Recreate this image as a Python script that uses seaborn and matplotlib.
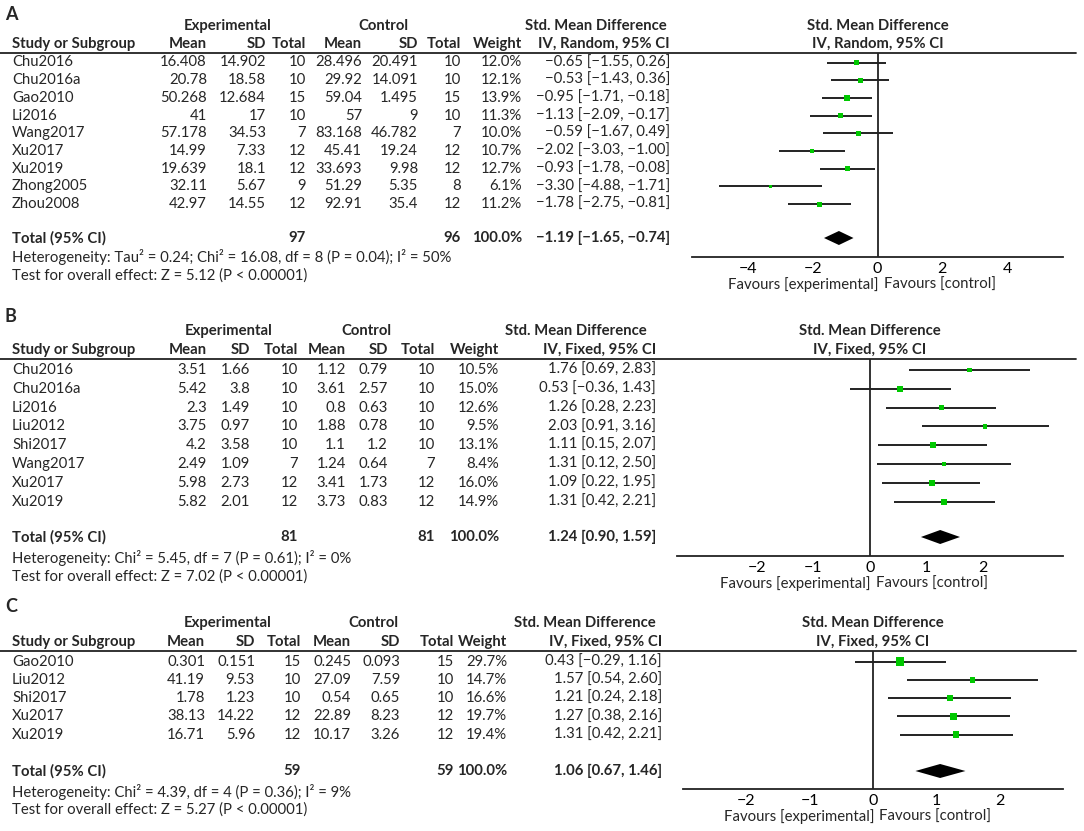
import matplotlib
matplotlib.use("Agg")
import matplotlib.pyplot as plt
from matplotlib.transforms import blended_transform_factory
import seaborn as sns
import pandas as pd

sns.set_style("white")
plt.rcParams["font.family"] = ["Lato", "DejaVu Sans"]
plt.rcParams["axes.unicode_minus"] = True

# ------------------------------------------------------------------
# Data
# ------------------------------------------------------------------
a_study = ["Chu2016", "Chu2016a", "Gao2010", "Li2016", "Wang2017", "Xu2017",
           "Xu2019", "Zhong2005", "Zhou2008"]
a_exp_mean = [16.408, 20.78, 50.268, 41, 57.178, 14.99, 19.639, 32.11, 42.97]
a_exp_sd = [14.902, 18.58, 12.684, 17, 34.53, 7.33, 18.1, 5.67, 14.55]
a_exp_n = [10, 10, 15, 10, 7, 12, 12, 9, 12]
a_ctl_mean = [28.496, 29.92, 59.04, 57, 83.168, 45.41, 33.693, 51.29, 92.91]
a_ctl_sd = [20.491, 14.091, 1.495, 9, 46.782, 19.24, 9.98, 5.35, 35.4]
a_ctl_n = [10, 10, 15, 10, 7, 12, 12, 8, 12]
a_weight = [12.0, 12.1, 13.9, 11.3, 10.0, 10.7, 12.7, 6.1, 11.2]
a_smd = [-0.65, -0.53, -0.95, -1.13, -0.59, -2.02, -0.93, -3.30, -1.78]
a_lo = [-1.55, -1.43, -1.71, -2.09, -1.67, -3.03, -1.78, -4.88, -2.75]
a_hi = [0.26, 0.36, -0.18, -0.17, 0.49, -1.00, -0.08, -1.71, -0.81]
a_total = [97, 96, -1.19, -1.65, -0.74]
a_het = "Heterogeneity: Tau² = 0.24; Chi² = 16.08, df = 8 (P = 0.04); I² = 50%"
a_test = "Test for overall effect: Z = 5.12 (P < 0.00001)"

b_study = ["Chu2016", "Chu2016a", "Li2016", "Liu2012", "Shi2017", "Wang2017",
           "Xu2017", "Xu2019"]
b_exp_mean = [3.51, 5.42, 2.3, 3.75, 4.2, 2.49, 5.98, 5.82]
b_exp_sd = [1.66, 3.8, 1.49, 0.97, 3.58, 1.09, 2.73, 2.01]
b_exp_n = [10, 10, 10, 10, 10, 7, 12, 12]
b_ctl_mean = [1.12, 3.61, 0.8, 1.88, 1.1, 1.24, 3.41, 3.73]
b_ctl_sd = [0.79, 2.57, 0.63, 0.78, 1.2, 0.64, 1.73, 0.83]
b_ctl_n = [10, 10, 10, 10, 10, 7, 12, 12]
b_weight = [10.5, 15.0, 12.6, 9.5, 13.1, 8.4, 16.0, 14.9]
b_smd = [1.76, 0.53, 1.26, 2.03, 1.11, 1.31, 1.09, 1.31]
b_lo = [0.69, -0.36, 0.28, 0.91, 0.15, 0.12, 0.22, 0.42]
b_hi = [2.83, 1.43, 2.23, 3.16, 2.07, 2.50, 1.95, 2.21]
b_total = [81, 81, 1.24, 0.90, 1.59]
b_het = "Heterogeneity: Chi² = 5.45, df = 7 (P = 0.61); I² = 0%"
b_test = "Test for overall effect: Z = 7.02 (P < 0.00001)"

c_study = ["Gao2010", "Liu2012", "Shi2017", "Xu2017", "Xu2019"]
c_exp_mean = [0.301, 41.19, 1.78, 38.13, 16.71]
c_exp_sd = [0.151, 9.53, 1.23, 14.22, 5.96]
c_exp_n = [15, 10, 10, 12, 12]
c_ctl_mean = [0.245, 27.09, 0.54, 22.89, 10.17]
c_ctl_sd = [0.093, 7.59, 0.65, 8.23, 3.26]
c_ctl_n = [15, 10, 10, 12, 12]
c_weight = [29.7, 14.7, 16.6, 19.7, 19.4]
c_smd = [0.43, 1.57, 1.21, 1.27, 1.31]
c_lo = [-0.29, 0.54, 0.24, 0.38, 0.42]
c_hi = [1.16, 2.60, 2.18, 2.16, 2.21]
c_total = [59, 59, 1.06, 0.67, 1.46]
c_het = "Heterogeneity: Chi² = 4.39, df = 4 (P = 0.36); I² = 9%"
c_test = "Test for overall effect: Z = 5.27 (P < 0.00001)"

col_heads = ["Mean", "SD", "Total", "Mean", "SD", "Total", "Weight"]

# ------------------------------------------------------------------
# Layout (pixel positions on a 1084 x 831 canvas)
# ------------------------------------------------------------------
W, H = 1084, 831
GREEN = "#00c800"
LINE = "#222222"
FS = 10.7

panels = [
    dict(letter="A", method="IV, Random, 95% CI",
         study=a_study, em=a_exp_mean, es=a_exp_sd, en=a_exp_n,
         cm=a_ctl_mean, cs=a_ctl_sd, cn=a_ctl_n, w=a_weight,
         smd=a_smd, lo=a_lo, hi=a_hi, tot=a_total, het=a_het, test=a_test,
         label_y=14, h1=26, h2=44, line_y=53, row0=62.5, row_h=17.7,
         total_y=238, het_y=257, test_y=276, axis_y=257,
         cols=[207, 266, 306, 362, 418, 461, 522, 670], h1x=[228, 383, 596],
         fx=(692, 1063), xlim=(-5.72, 5.72), ticks=[-4, -2, 0, 2, 4]),
    dict(letter="B", method="IV, Fixed, 95% CI",
         study=b_study, em=b_exp_mean, es=b_exp_sd, en=b_exp_n,
         cm=b_ctl_mean, cs=b_ctl_sd, cn=b_ctl_n, w=b_weight,
         smd=b_smd, lo=b_lo, hi=b_hi, tot=b_total, het=b_het, test=b_test,
         label_y=316, h1=331, h2=350, line_y=359, row0=370, row_h=18.8,
         total_y=537, het_y=558, test_y=577, axis_y=556,
         cols=[207, 250, 298, 346, 388, 435, 499, 656], h1x=[229, 366, 576],
         fx=(677, 1063), xlim=(-3.41, 3.41), ticks=[-2, -1, 0, 1, 2]),
    dict(letter="C", method="IV, Fixed, 95% CI",
         study=c_study, em=c_exp_mean, es=c_exp_sd, en=c_exp_n,
         cm=c_ctl_mean, cs=c_ctl_sd, cn=c_ctl_n, w=c_weight,
         smd=c_smd, lo=c_lo, hi=c_hi, tot=c_total, het=c_het, test=c_test,
         label_y=606, h1=623, h2=642, line_y=651, row0=661.5, row_h=18.3,
         total_y=771, het_y=792, test_y=810, axis_y=789,
         cols=[205, 255, 301, 351, 400, 454, 507, 662], h1x=[228, 373, 585],
         fx=(683, 1063), xlim=(-3.0, 3.0), ticks=[-2, -1, 0, 1, 2]),
]


def fmt(v):
    return f"{v:g}".replace("-", "\u2212")


def ci(est, lo, hi):
    return f"{est:.2f} [{lo:.2f}, {hi:.2f}]".replace("-", "\u2212")


fig = plt.figure(figsize=(W / 100, H / 100), dpi=100)
tx = fig.add_axes([0, 0, 1, 1])
tx.set_xlim(0, W)
tx.set_ylim(H, 0)
tx.axis("off")

for p in panels:
    cols = p["cols"]
    # panel letter and table header
    tx.text(5, p["label_y"], p["letter"], fontsize=13, fontweight="bold",
            va="center", ha="left")
    for x, s in zip(p["h1x"], ["Experimental", "Control", "Std. Mean Difference"]):
        tx.text(x, p["h1"], s, fontsize=FS, fontweight="bold", ha="center", va="center")
    tx.text(12, p["h2"], "Study or Subgroup", fontsize=FS, fontweight="bold", va="center")
    for x, s in zip(cols, col_heads + [p["method"]]):
        tx.text(x, p["h2"], s, fontsize=FS, fontweight="bold", ha="right", va="center")
    tx.plot([0, 1076], [p["line_y"], p["line_y"]], color=LINE, lw=1.3)

    # study rows
    rows = [p["row0"] + i * p["row_h"] for i in range(len(p["study"]))]
    df = pd.DataFrame({"study": p["study"], "em": p["em"], "es": p["es"],
                       "en": p["en"], "cm": p["cm"], "cs": p["cs"], "cn": p["cn"],
                       "w": p["w"], "smd": p["smd"], "lo": p["lo"], "hi": p["hi"],
                       "y": rows})
    for _, r in df.iterrows():
        tx.text(12, r.y, r.study, fontsize=FS, va="center")
        vals = [fmt(r.em), fmt(r.es), f"{int(r.en)}", fmt(r.cm), fmt(r.cs),
                f"{int(r.cn)}", f"{r.w:.1f}%", ci(r.smd, r.lo, r.hi)]
        for x, s in zip(cols, vals):
            tx.text(x, r.y, s, fontsize=FS, ha="right", va="center")

    # total row and footnotes
    tot = p["tot"]
    tx.text(12, p["total_y"], "Total (95% CI)", fontsize=FS, fontweight="bold", va="center")
    for x, s in zip([cols[2], cols[5], cols[6], cols[7]],
                    [f"{tot[0]}", f"{tot[1]}", "100.0%", ci(tot[2], tot[3], tot[4])]):
        tx.text(x, p["total_y"], s, fontsize=FS, fontweight="bold", ha="right", va="center")
    tx.text(12, p["het_y"], p["het"], fontsize=FS, va="center")
    tx.text(12, p["test_y"], p["test"], fontsize=FS, va="center")

    # forest plot
    x0, x1 = p["fx"]
    ax = fig.add_axes([x0 / W, 1 - p["axis_y"] / H, (x1 - x0) / W,
                       (p["axis_y"] - p["line_y"]) / H])
    ax.set_xlim(*p["xlim"])
    ax.set_ylim(p["axis_y"], p["line_y"])
    ax.patch.set_alpha(0)
    for side in ["top", "left", "right"]:
        ax.spines[side].set_visible(False)
    ax.spines["bottom"].set_color(LINE)
    ax.spines["bottom"].set_linewidth(1.3)
    ax.set_yticks([])
    ax.set_xticks(p["ticks"])
    ax.tick_params(axis="x", direction="inout", length=6.5, width=1.1, pad=0.5,
                   labelsize=11.5, colors=LINE, labelcolor="black")
    ax.axvline(0, color=LINE, lw=1.3, zorder=1)
    ax.hlines(df["y"], df["lo"], df["hi"], color=LINE, lw=1.4, zorder=2)
    sns.scatterplot(data=df, x="smd", y="y", size="w", marker="s",
                    sizes=(1.2 * df["w"].min(), 1.2 * df["w"].max()),
                    size_norm=(df["w"].min(), df["w"].max()),
                    color=GREEN, edgecolor="none", linewidth=0, legend=False,
                    ax=ax, zorder=3)
    ax.set_xlabel("")
    ax.set_ylabel("")
    dy = 7
    ty = p["total_y"]
    ax.fill([tot[3], tot[2], tot[4], tot[2]], [ty, ty - dy, ty, ty + dy],
            color="black", lw=0, zorder=3)

    # forest header and favours labels
    tr = blended_transform_factory(ax.transData, tx.transData)
    ax.text(0, p["h1"], "Std. Mean Difference", transform=tr, fontsize=FS,
            fontweight="bold", ha="center", va="center")
    ax.text(0, p["h2"], p["method"], transform=tr, fontsize=FS,
            fontweight="bold", ha="center", va="center")
    zx = x0 + (0 - p["xlim"][0]) / (p["xlim"][1] - p["xlim"][0]) * (x1 - x0)
    tx.text(zx + 1, p["axis_y"] + 28, "Favours [experimental]", fontsize=FS,
            ha="right", va="center")
    tx.text(zx + 6, p["axis_y"] + 28, "Favours [control]", fontsize=FS,
            ha="left", va="center")

fig.savefig("out.png", dpi=100)
